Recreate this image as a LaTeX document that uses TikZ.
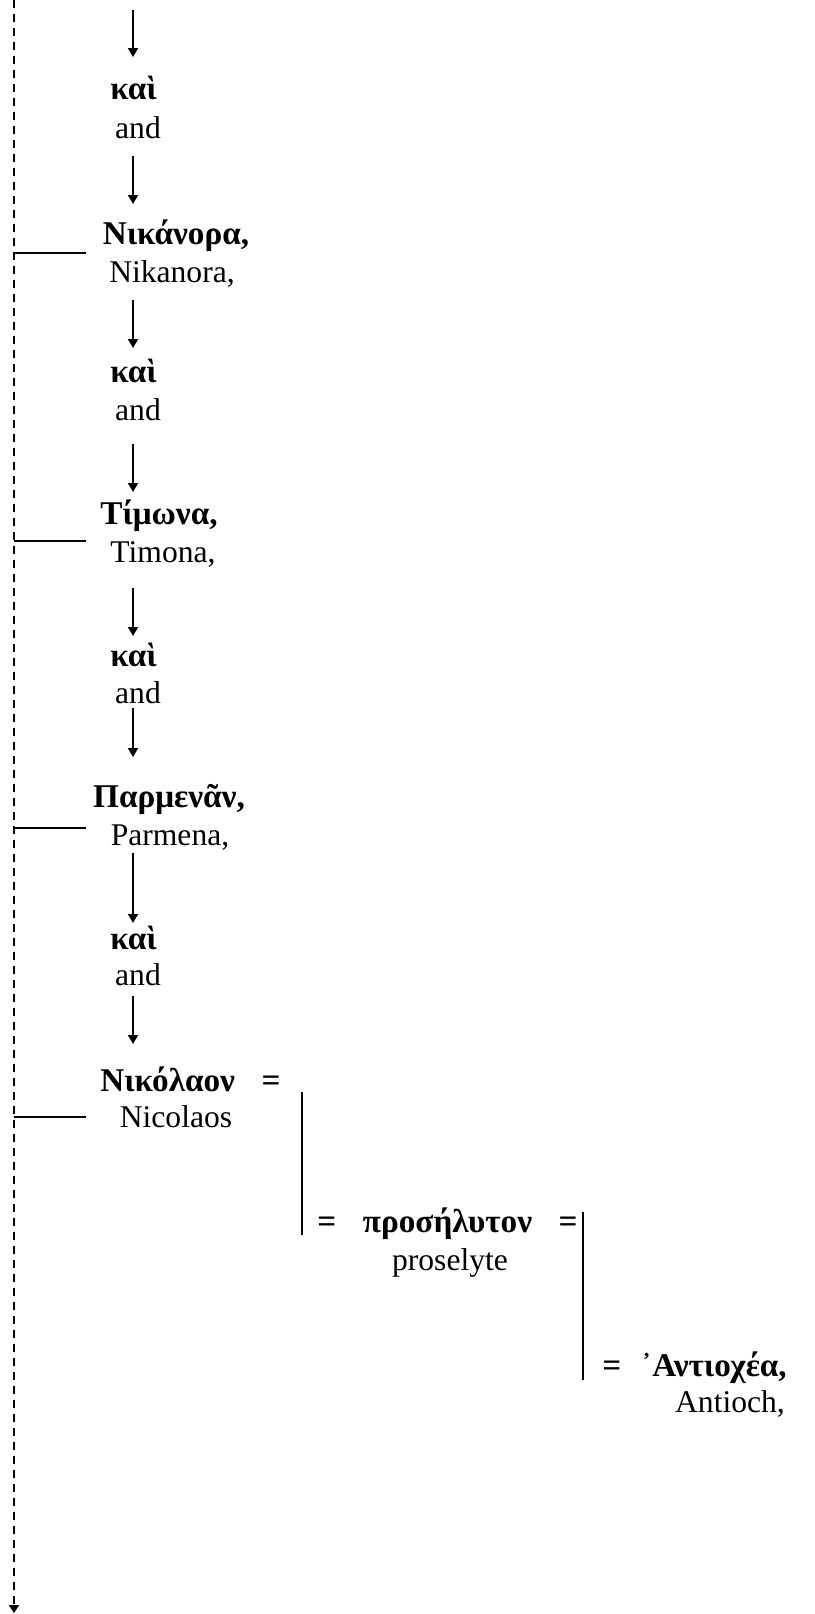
\documentclass[tikz,border=0pt]{standalone}
\usepackage{fontspec}
\setmainfont{Liberation Serif}
\newfontfamily\grk{Liberation Serif}
\usetikzlibrary{arrows.meta}

\begin{document}
\begin{tikzpicture}[x=0.5pt,y=-0.5pt,
  gk/.style={font=\grk\bfseries\fontsize{16.6}{19}\selectfont, inner sep=0pt,
             text height=0.7em, text depth=0.2em, yshift=-2.3pt},
  en/.style={font=\fontsize{15.8}{18}\selectfont, inner sep=0pt,
             text height=0.7em, text depth=0.2em, yshift=-2.5pt},
  flow/.style={line width=0.85pt, -{Triangle[length=4.5pt,width=5pt]}},
  axisline/.style={line width=1.1pt, dash pattern=on 4pt off 3pt,
                   -{Triangle[length=4pt,width=5pt]}},
  tickline/.style={line width=1pt},
  barline/.style={line width=1pt}]
\useasboundingbox (0,0) rectangle (815,1614);

% main axis on the left
\coordinate (axtop) at (14,0);
\coordinate (axbot) at (14,1613);
\draw[axisline] (axtop) -- (axbot);

% words
\node[gk] (kai1) at (133.5,90) {καὶ};
\node[en] (and1) at (138,128) {and};
\node[gk] (nik)  at (176,235) {Νικάνορα,};
\node[en] (nikE) at (172,272) {Nikanora,};
\node[gk] (kai2) at (133.5,373) {καὶ};
\node[en] (and2) at (138,410) {and};
\node[gk] (tim)  at (159,515) {Τίμωνα,};
\node[en] (timE) at (163,552) {Timona,};
\node[gk] (kai3) at (133.5,657) {καὶ};
\node[en] (and3) at (138,693) {and};
\node[gk] (par)  at (169,798) {Παρμενᾶν,};
\node[en] (parE) at (170,835) {Parmena,};
\node[gk] (kai4) at (133.5,940) {καὶ};
\node[en] (and4) at (138,975) {and};
\node[gk, anchor=west] (nic) at (100,1082) {Νικόλαον\hspace{0.8em}=};
\node[en] (nicE) at (176,1117) {Nicolaos};
\node[gk, anchor=west] (pros) at (317,1223) {=\hspace{0.8em}προσήλυτον\hspace{0.8em}=};
\node[en] (prosE) at (450,1260) {proselyte};
\node[gk, anchor=west] (ant) at (602,1367) {=\hspace{0.6em}᾿Αντιοχέα,};
\node[en] (antE) at (730,1402) {Antioch,};

% arrow end points along the word column
\foreach \n/\ya/\yb in {a0/10/57, a1/156/204, a2/300/348, a3/444/492,
                        a4/588/636, a5/708/757, a6/853/923, a7/996/1044}{
  \coordinate (\n s) at (133,\ya);
  \coordinate (\n e) at (133,\yb);
}
\foreach \n in {a0,a1,a2,a3,a4,a5,a6,a7}
  \draw[flow] (\n s) -- (\n e);

% ticks from the axis to each name
\foreach \n/\y in {t1/253, t2/541, t3/828, t4/1117}{
  \coordinate (\n a) at (14,\y);
  \coordinate (\n b) at (86,\y);
  \draw[tickline] (\n a) -- (\n b);
}

% bars linking the appositions
\coordinate (b1t) at (302,1092);
\coordinate (b1b) at (302,1235);
\coordinate (b2t) at (583,1212);
\coordinate (b2b) at (583,1380);
\draw[barline] (b1t) -- (b1b);
\draw[barline] (b2t) -- (b2b);
\end{tikzpicture}
\end{document}
